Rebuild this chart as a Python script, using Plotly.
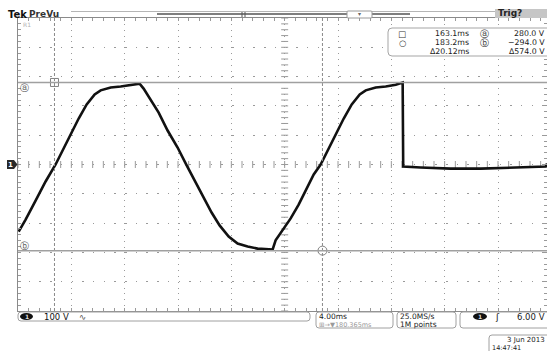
import numpy as np
import plotly.graph_objects as go

# ---- captured waveform (channel 1), time relative to trigger point ----
time_ms = [-19.95, -19.43, -18.68, -17.93, -17.18, -16.65, -16.05, -15.45, -14.85,
           -14.25, -13.8, -13.05, -12.3, -11.55, -10.88, -10.58, -10.05, -9.45,
           -8.78, -8.03, -7.35, -6.68, -6.08, -5.48, -4.88, -4.2, -3.53, -2.78,
           -2.03, -1.35, -0.9, -0.68, -0.23, 0.45, 1.05, 1.65, 2.18, 2.7, 3.23,
           3.83, 4.43, 5.03, 5.63, 6.08, 6.83, 7.58, 8.33, 8.85, 8.89, 10.2,
           12.45, 14.7, 17.7, 19.58, 19.68]
volts = [-229, -188, -123, -58, 0, 48, 102, 157, 205,
         239, 253, 263, 266, 270, 276, 259, 222, 177,
         116, 58, -3, -61, -113, -164, -208, -246, -270, -280,
         -287, -290, -290, -259, -229, -184, -137, -82, -34, 0, 48,
         102, 157, 205, 239, 253, 263, 266, 272, 280, -7, -10,
         -14, -14, -10, -7, 3]

# ---- instrument settings / readouts ----
volts_per_div = 100.0
ms_per_div = 4.0
h_position_ms = 180.365
cursor_t = [163.1, 183.2]          # ms (absolute)
cursor_v = [280.0, -294.0]         # V
cursor_dt = 20.12                  # ms, as reported by the scope
cursor_dv = 574.0                  # V
trigger_level = "6.00 V"
sample_rate = "25.0MS/s"
record_len = "1M points"
date_str = "3 Jun 2013"
time_str = "14:47:41"

# ---- page geometry (pixels) ----
W, H = 547, 351
L, T, B = 18, 18, 40
PW, PH = W - L, H - T - B
BOT = H - B

def X(px):
    return (px - L) / PW

def Y(py):
    return (BOT - py) / PH

px_per_ms = 53.333 / ms_per_div
x_range = [-5 * ms_per_div, -5 * ms_per_div + PW / px_per_ms]
y_range = [-5 * volts_per_div, 5 * volts_per_div]

GRID = "#9a9a9a"
PANEL = "#d0d0d0"

fig = go.Figure()

# centre-line tick marks of the graticule
minor_x = np.arange(x_range[0], x_range[1], ms_per_div / 5)
minor_y = np.arange(y_range[0], y_range[1] + 1e-9, volts_per_div / 5)
fig.add_trace(go.Scatter(x=minor_x, y=np.zeros_like(minor_x), mode="markers",
                         marker=dict(symbol="line-ns", size=5, line=dict(color=GRID, width=1)),
                         hoverinfo="skip", showlegend=False))
fig.add_trace(go.Scatter(x=np.zeros_like(minor_y), y=minor_y, mode="markers",
                         marker=dict(symbol="line-ew", size=5, line=dict(color=GRID, width=1)),
                         hoverinfo="skip", showlegend=False))

# cursors
c_rel = [c - h_position_ms for c in cursor_t]
for cx in c_rel:
    fig.add_shape(type="line", xref="x", yref="paper", x0=cx, x1=cx, y0=0, y1=1,
                  line=dict(color="#8a8a8a", width=1, dash="3px,2px"))
for cv in cursor_v:
    fig.add_shape(type="line", xref="paper", yref="y", x0=0, x1=1, y0=cv, y1=cv,
                  line=dict(color="#a0a0a0", width=1.5))

# waveform
fig.add_trace(go.Scatter(x=time_ms, y=volts, mode="lines",
                         line=dict(color="#111111", width=2.6),
                         hoverinfo="skip", showlegend=False))

# cursor markers
fig.add_trace(go.Scatter(x=[c_rel[0]], y=[cursor_v[0]], mode="markers",
                         marker=dict(symbol="square-open", size=8, color="#808080", line=dict(width=1)),
                         hoverinfo="skip", showlegend=False))
fig.add_trace(go.Scatter(x=[c_rel[1]], y=[cursor_v[1]], mode="markers",
                         marker=dict(symbol="circle-open", size=9, color="#808080", line=dict(width=1)),
                         hoverinfo="skip", showlegend=False))

shapes = []

def rect(x0, y0, x1, y1, fill, line_color=None, lw=1):
    shapes.append(dict(type="rect", xref="paper", yref="paper",
                       x0=X(x0), x1=X(x1), y0=Y(y1), y1=Y(y0),
                       fillcolor=fill, layer="above",
                       line=dict(color=line_color or fill, width=lw if line_color else 0)))

def rrect(x0, y0, x1, y1, r=3, fill="white", line_color="#9a9a9a"):
    rx, ry = r / PW, r / PH
    a, b, c, d = X(x0), X(x1), Y(y1), Y(y0)
    p = (f"M {a+rx},{c} L {b-rx},{c} Q {b},{c} {b},{c+ry} L {b},{d-ry} Q {b},{d} {b-rx},{d} "
         f"L {a+rx},{d} Q {a},{d} {a},{d-ry} L {a},{c+ry} Q {a},{c} {a+rx},{c} Z")
    shapes.append(dict(type="path", xref="paper", yref="paper", path=p,
                       fillcolor=fill, line=dict(color=line_color, width=1), layer="above"))

def ellipse(x0, y0, x1, y1, fill):
    shapes.append(dict(type="circle", xref="paper", yref="paper",
                       x0=X(x0), x1=X(x1), y0=Y(y1), y1=Y(y0),
                       fillcolor=fill, line=dict(color=fill, width=0), layer="above"))

def hline(x0, x1, y, color, w=1):
    shapes.append(dict(type="line", xref="paper", yref="paper",
                       x0=X(x0), x1=X(x1), y0=Y(y), y1=Y(y),
                       line=dict(color=color, width=w), layer="above"))

def vline(x, y0, y1, color, w=1):
    shapes.append(dict(type="line", xref="paper", yref="paper",
                       x0=X(x), x1=X(x), y0=Y(y0), y1=Y(y1),
                       line=dict(color=color, width=w), layer="above"))

# side and bottom panels
rect(7, 40, 18, 322, PANEL)
rect(16, 18, 18, 40, PANEL)
rect(7, 321, 547, 350, PANEL)

# top status bar
rect(25, 11, 71, 18, "#c6c6c6")
hline(71, 547, 11.5, "#b5b5b5")
hline(157, 410, 14, "#555555", 1.5)
vline(242, 12, 17, "#555555")
vline(245, 12, 17, "#555555")
rrect(347, 11, 372, 18, r=1, fill="white", line_color="#9a9a9a")
rect(495, 9, 547, 18, "#c6c6c6")

# channel-1 ground marker
shapes.append(dict(type="path", xref="paper", yref="paper", layer="above",
                   path=(f"M {X(7)},{Y(160)} L {X(14)},{Y(160)} L {X(17.5)},{Y(164.5)} "
                         f"L {X(14)},{Y(169)} L {X(7)},{Y(169)} Z"),
                   fillcolor="#2a2a2a", line=dict(width=0)))

# readout box
rrect(388, 28, 560, 56, r=4, fill="white", line_color="#a5a5a5")

# bottom status boxes
rrect(18, 312, 310, 321, r=3, fill="white", line_color="#a0a0a0")
ellipse(20, 313, 33, 320, "#111111")
rrect(316, 312, 393, 328, r=3, fill="white", line_color="#a0a0a0")
rrect(397, 312, 456, 328, r=3, fill="white", line_color="#a0a0a0")
rrect(460, 312, 560, 328, r=3, fill="white", line_color="#a0a0a0")
ellipse(473, 313, 487, 320, "#111111")
rrect(489, 335, 560, 360, r=3, fill="white", line_color="#a0a0a0")

ann = []
FONT = "DejaVu Sans"

def text(s, x, y, size=8.5, color="#1a1a1a", anchor="left", bold=False, family=FONT):
    ann.append(dict(text=f"<b>{s}</b>" if bold else s, xref="paper", yref="paper",
                    x=X(x), y=Y(y), xanchor=anchor, yanchor="middle", showarrow=False,
                    font=dict(family=family, size=size, color=color), borderpad=0))

text("Tek", 7, 14.5, size=10, color="#111", bold=True)
text("PreVu", 28, 14.5, size=9, color="#333", bold=True)
text("▾", 359.5, 13.5, size=6, color="#666", anchor="center")
text("Trig?", 497, 13, size=9, color="#222", bold=True)
text("R1", 22, 24.5, size=6, color="#b0b0b0")

text("1", 10.5, 164.5, size=7, color="white", anchor="center", bold=True)
text("ⓐ", 24, 88, size=9, color="#555", anchor="center")
text("ⓑ", 24, 246, size=9, color="#555", anchor="center")

# cursor readouts
RS = 7.8
text("□", 402, 33.5, size=8.5, color="#333", anchor="center")
text("○", 402, 42.5, size=8.5, color="#333", anchor="center")
text(f"{cursor_t[0]:.1f}ms", 470, 33.5, size=RS, anchor="right")
text(f"{cursor_t[1]:.1f}ms", 470, 42.5, size=RS, anchor="right")
text(f"Δ{cursor_dt:.2f}ms", 470, 51.5, size=RS, anchor="right")
text("ⓐ", 484, 33.5, size=8.5, color="#333", anchor="center")
text("ⓑ", 484, 42.5, size=8.5, color="#333", anchor="center")
text(f"{cursor_v[0]:.1f} V", 546, 33.5, size=RS, anchor="right")
text(f"−{abs(cursor_v[1]):.1f} V", 546, 42.5, size=RS, anchor="right")
text(f"Δ{cursor_dv:.1f} V", 546, 51.5, size=RS, anchor="right")

# bottom status text
text("1", 26.5, 316.5, size=6, color="#ddd", anchor="center", bold=True)
text(f"{volts_per_div:.0f} V", 43, 316.5, size=8.5, color="#111")
text("∿", 78, 316.5, size=8.5, color="#555")
text(f"{ms_per_div:.2f}ms", 318, 316, size=7.5)
text(f"⊞→▼{h_position_ms:.3f}ms", 318, 324.5, size=6.5, color="#9a9a9a")
text(sample_rate, 399, 316, size=7.5)
text(record_len, 399, 324.5, size=7.5)
text("1", 480, 316.5, size=6, color="#ddd", anchor="center", bold=True)
text("ʃ", 497, 316.5, size=9, color="#111", anchor="center")
text(trigger_level, 546, 316.5, size=8.5, anchor="right")
text(date_str, 546, 340, size=7, anchor="right")
text(time_str, 491, 347.5, size=6.5)

axis_common = dict(showline=True, linecolor="#8a8a8a", linewidth=1, mirror="ticks",
                   ticks="inside", ticklen=3, tickcolor=GRID, showticklabels=False,
                   zeroline=False, fixedrange=True)

fig.update_layout(
    width=W, height=H,
    margin=dict(l=L, r=W - L - PW, t=T, b=B),
    paper_bgcolor="white", plot_bgcolor="white",
    shapes=shapes, annotations=ann,
    xaxis=dict(range=x_range, dtick=ms_per_div, tick0=0, showgrid=True,
               gridcolor=GRID, gridwidth=1, griddash="1px,4.86px",
               minor=dict(dtick=ms_per_div / 5, ticks="inside", ticklen=3, tickcolor=GRID),
               **axis_common),
    yaxis=dict(range=y_range, dtick=volts_per_div, tick0=0, showgrid=True,
               gridcolor=GRID, gridwidth=1, griddash="1.5px,9.2px",
               minor=dict(dtick=volts_per_div / 5, ticks="inside", ticklen=3, tickcolor=GRID),
               **axis_common),
    showlegend=False,
)

fig.write_html("out.html")
